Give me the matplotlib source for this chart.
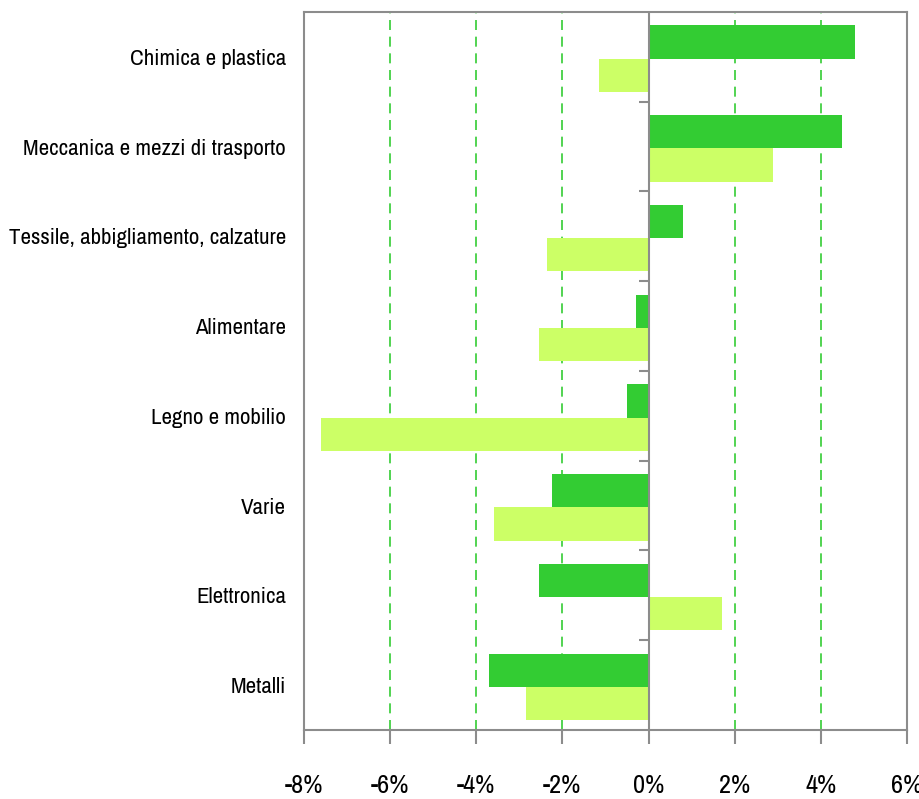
import matplotlib
matplotlib.use("Agg")
import matplotlib.pyplot as plt
from matplotlib.ticker import FuncFormatter
import numpy as np

categories = ["Chimica e plastica", "Meccanica e mezzi di trasporto",
              "Tessile, abbigliamento, calzature", "Alimentare",
              "Legno e mobilio", "Varie", "Elettronica", "Metalli"]
serie_scura = [4.8, 4.5, 0.8, -0.3, -0.5, -2.25, -2.55, -3.7]
serie_chiara = [-1.15, 2.9, -2.35, -2.55, -7.6, -3.6, 1.7, -2.85]
x_ticks = [-8, -6, -4, -2, 0, 2, 4, 6]

plt.rcParams['font.family'] = ['Archivo Narrow', 'Asap Condensed', 'DejaVu Sans']

fig = plt.figure(figsize=(9.2, 7.99), dpi=100)
ax = fig.add_axes([0.3304, 0.0864, 0.6555, 0.8986])

y = np.arange(len(categories))
h = 0.37
ax.barh(y - h / 2 + 0.02, serie_scura, height=h, color="#33CC33", zorder=3)
ax.barh(y + h / 2 + 0.02, serie_chiara, height=h, color="#CCFF66", zorder=3)

ax.set_xlim(-8, 6)
ax.set_ylim(len(categories) - 0.5, -0.5)
ax.set_xticks(x_ticks)
ax.xaxis.set_major_formatter(FuncFormatter(lambda v, p: f"{v:.0f}%"))
ax.set_yticks(y)
ax.set_yticklabels(categories)

# gridlines
for v in x_ticks:
    if v != 0:
        ax.axvline(v, color="#33CC33", lw=1.2, ls=(0, (6, 4)), zorder=1)

# zero axis with category ticks
ax.axvline(0, color="#8C8C8C", lw=1.5, zorder=4)
ax.plot(np.zeros(len(categories) - 1), y[:-1] + 0.5, ls="none", marker=0,
        markersize=7, markeredgewidth=1.5, color="#8C8C8C", zorder=4)

for s in ax.spines.values():
    s.set_color("#8C8C8C")
    s.set_linewidth(1.5)

ax.tick_params(axis="x", direction="out", length=10, width=1.5, color="#8C8C8C",
               labelsize=19, pad=22)
ax.tick_params(axis="y", length=0, labelsize=16.5, pad=13)

fig.savefig("out.png", dpi=100)
